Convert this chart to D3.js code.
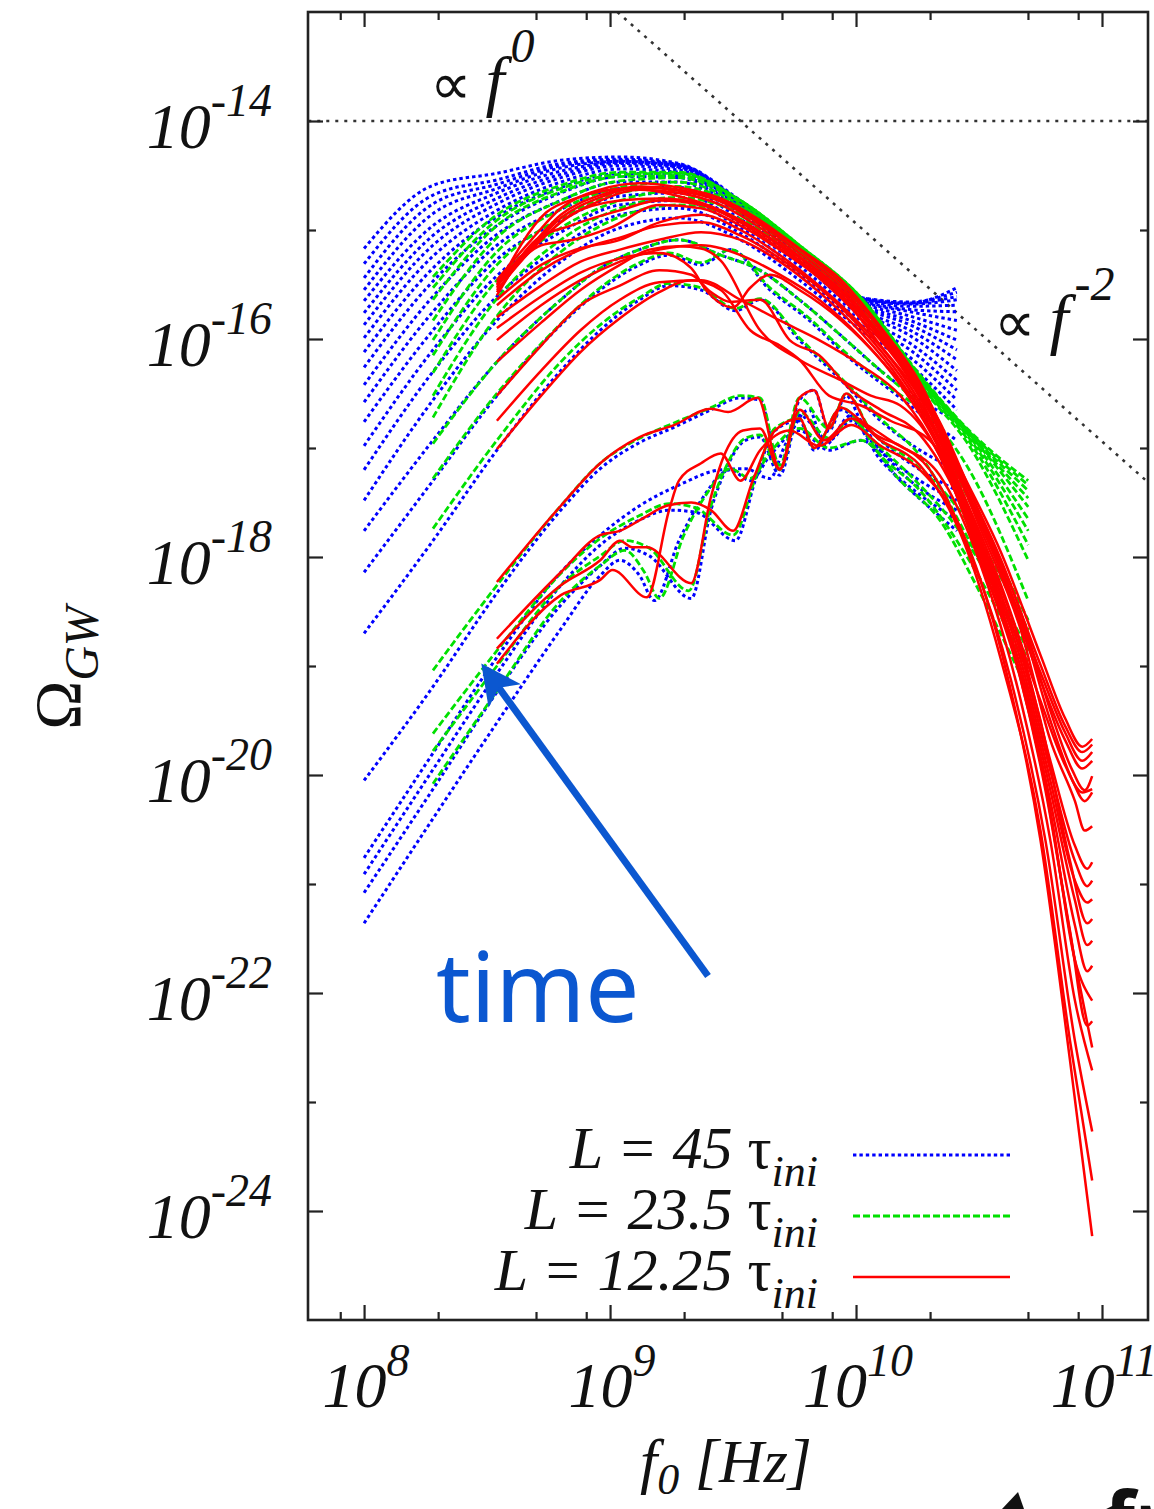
<!DOCTYPE html>
<html>
<head>
<meta charset="utf-8">
<script src="https://cdn.jsdelivr.net/npm/d3@7/dist/d3.min.js"></script>
<style>
  body { margin: 0; background: #fff; }
  svg text { font-family: "Liberation Serif", "Times New Roman", serif; fill: #111; }
</style>
</head>
<body>
<div id="chart"></div>
<script>
// every point is [log10 f0 (Hz), log10 Omega_GW]

// L = 45 tau_ini : late-time fan, all on one frequency grid
var blueFanF = [8.00, 8.28, 8.54, 8.80, 9.04, 9.28, 9.53, 9.77, 10.02, 10.22, 10.41];
var blueFanOmega = [
  [-17.48, -16.56, -15.83, -15.29, -14.98, -14.89, -15.09, -15.46, -15.92, -16.24, -16.65],
  [-17.20, -16.30, -15.61, -15.15, -14.86, -14.80, -15.03, -15.41, -15.87, -16.17, -16.56],
  [-16.98, -16.10, -15.42, -15.02, -14.77, -14.73, -14.98, -15.37, -15.83, -16.10, -16.47],
  [-16.76, -15.92, -15.27, -14.91, -14.69, -14.66, -14.94, -15.33, -15.79, -16.04, -16.38],
  [-16.58, -15.75, -15.14, -14.81, -14.62, -14.61, -14.90, -15.29, -15.75, -15.97, -16.29],
  [-16.42, -15.61, -15.04, -14.73, -14.56, -14.56, -14.86, -15.27, -15.73, -15.92, -16.19],
  [-16.26, -15.47, -14.96, -14.66, -14.51, -14.52, -14.84, -15.24, -15.70, -15.87, -16.10],
  [-16.12, -15.35, -14.88, -14.61, -14.48, -14.50, -14.82, -15.22, -15.68, -15.83, -16.01],
  [-15.99, -15.24, -14.82, -14.56, -14.44, -14.47, -14.80, -15.20, -15.66, -15.79, -15.92],
  [-15.87, -15.14, -14.76, -14.52, -14.41, -14.45, -14.78, -15.19, -15.65, -15.75, -15.83],
  [-15.76, -15.05, -14.71, -14.49, -14.39, -14.43, -14.77, -15.18, -15.64, -15.73, -15.75],
  [-15.65, -14.96, -14.66, -14.46, -14.38, -14.42, -14.76, -15.18, -15.63, -15.70, -15.69],
  [-15.55, -14.85, -14.62, -14.43, -14.37, -14.41, -14.75, -15.17, -15.63, -15.68, -15.64],
  [-15.44, -14.76, -14.58, -14.41, -14.36, -14.40, -14.75, -15.17, -15.63, -15.67, -15.61],
  [-15.31, -14.68, -14.54, -14.39, -14.35, -14.40, -14.74, -15.16, -15.62, -15.66, -15.57],
  [-15.17, -14.59, -14.48, -14.36, -14.33, -14.39, -14.73, -15.16, -15.62, -15.67, -15.53]
];
// L = 45 tau_ini : earlier snapshots
var blueCurves = [
  [[8.00,-17.76],[8.28,-16.93],[8.54,-16.21],[8.80,-15.64],[8.96,-15.35],[9.12,-15.18],[9.28,-15.09],[9.45,-15.23],[9.61,-15.37],[9.77,-15.64],[9.94,-15.97],[10.10,-16.29],[10.26,-16.56],[10.41,-16.75]],
  [[8.00,-18.14],[8.28,-17.30],[8.54,-16.52],[8.80,-15.87],[8.96,-15.55],[9.12,-15.32],[9.24,-15.23],[9.37,-15.32],[9.49,-15.18],[9.65,-15.55],[9.81,-15.83],[9.98,-16.19],[10.14,-16.47],[10.30,-16.75],[10.41,-16.93]],
  [[8.00,-18.70],[8.28,-17.85],[8.54,-17.02],[8.80,-16.29],[8.96,-15.92],[9.12,-15.64],[9.24,-15.51],[9.37,-15.55],[9.51,-15.74],[9.61,-15.64],[9.77,-16.01],[9.94,-16.38],[10.10,-16.75],[10.26,-17.02],[10.41,-17.20]],
  [[8.00,-20.05],[8.28,-19.19],[8.54,-18.33],[8.80,-17.57],[8.96,-17.19],[9.12,-16.95],[9.26,-16.81],[9.41,-16.65],[9.53,-16.54],[9.61,-16.56],[9.69,-17.20],[9.77,-16.56],[9.83,-16.47],[9.89,-16.84],[9.96,-16.52],[10.02,-16.75],[10.10,-16.93],[10.26,-17.20],[10.41,-17.39]],
  [[8.00,-20.76],[8.28,-19.80],[8.54,-18.92],[8.80,-18.14],[8.96,-17.80],[9.12,-17.53],[9.28,-17.34],[9.45,-17.20],[9.55,-17.19],[9.65,-17.28],[9.71,-16.98],[9.81,-16.65],[9.87,-16.98],[9.98,-16.70],[10.10,-17.02],[10.26,-17.30],[10.41,-17.48]],
  [[8.00,-20.91],[8.28,-19.95],[8.54,-19.07],[8.80,-18.26],[8.96,-17.89],[9.12,-17.66],[9.24,-17.57],[9.35,-17.59],[9.51,-17.85],[9.59,-17.30],[9.67,-16.84],[9.77,-16.75],[9.83,-17.02],[9.94,-16.65],[10.06,-16.93],[10.22,-17.30],[10.41,-17.57]],
  [[8.00,-21.08],[8.28,-20.13],[8.54,-19.24],[8.80,-18.44],[8.96,-18.08],[9.06,-17.92],[9.16,-17.99],[9.33,-18.38],[9.41,-17.57],[9.47,-17.20],[9.55,-16.93],[9.61,-16.90],[9.69,-17.25],[9.77,-16.70],[9.89,-16.93],[9.98,-16.75],[10.10,-17.11],[10.26,-17.43],[10.41,-17.66]],
  [[8.00,-21.36],[8.28,-20.40],[8.54,-19.52],[8.80,-18.66],[8.96,-18.17],[9.04,-18.03],[9.12,-18.17],[9.18,-18.40],[9.28,-17.85],[9.37,-17.48],[9.49,-17.20],[9.57,-17.30],[9.65,-17.07],[9.77,-16.84],[9.89,-17.02],[10.02,-16.93],[10.18,-17.30],[10.41,-17.76]]
];

// L = 23.5 tau_ini
var greenFanF = [8.28, 8.54, 8.80, 9.04, 9.28, 9.53, 9.77, 10.02, 10.26, 10.46, 10.70];
var greenFanOmega = [
  [-16.72, -15.79, -15.20, -14.88, -14.77, -14.90, -15.24, -15.71, -16.43, -16.98, -18.03],
  [-16.52, -15.63, -15.09, -14.80, -14.70, -14.85, -15.21, -15.69, -16.42, -16.94, -17.89],
  [-16.31, -15.46, -14.98, -14.73, -14.64, -14.82, -15.19, -15.67, -16.40, -16.91, -17.76],
  [-16.15, -15.32, -14.89, -14.66, -14.60, -14.79, -15.18, -15.65, -16.38, -16.89, -17.65],
  [-16.01, -15.20, -14.81, -14.61, -14.56, -14.77, -15.17, -15.64, -16.37, -16.87, -17.54],
  [-15.83, -15.07, -14.73, -14.55, -14.52, -14.75, -15.16, -15.63, -16.36, -16.87, -17.46],
  [-15.64, -14.96, -14.65, -14.51, -14.50, -14.73, -15.15, -15.63, -16.35, -16.86, -17.39],
  [-15.53, -14.91, -14.62, -14.49, -14.48, -14.73, -15.14, -15.62, -16.34, -16.85, -17.34],
  [-15.43, -14.86, -14.59, -14.47, -14.47, -14.73, -15.14, -15.62, -16.33, -16.84, -17.30]
];
var greenCurves = [
  [[8.28,-16.96],[8.54,-16.21],[8.80,-15.64],[8.96,-15.35],[9.12,-15.18],[9.28,-15.09],[9.45,-15.23],[9.61,-15.37],[9.77,-15.64],[9.94,-15.97],[10.10,-16.29],[10.26,-16.61],[10.46,-17.20],[10.70,-18.40]],
  [[8.28,-17.28],[8.54,-16.50],[8.80,-15.86],[8.96,-15.53],[9.12,-15.30],[9.24,-15.21],[9.37,-15.30],[9.49,-15.18],[9.65,-15.53],[9.81,-15.81],[9.98,-16.17],[10.14,-16.45],[10.30,-16.75],[10.46,-17.48],[10.70,-18.58]],
  [[8.28,-17.74],[8.54,-16.93],[8.80,-16.21],[8.96,-15.87],[9.12,-15.62],[9.24,-15.49],[9.37,-15.53],[9.51,-15.72],[9.61,-15.63],[9.77,-15.99],[9.94,-16.36],[10.10,-16.73],[10.26,-17.07],[10.46,-17.85],[10.70,-18.95]],
  [[8.28,-19.04],[8.54,-18.26],[8.80,-17.53],[8.96,-17.14],[9.12,-16.91],[9.26,-16.77],[9.41,-16.63],[9.53,-16.52],[9.61,-16.54],[9.69,-17.16],[9.77,-16.54],[9.89,-16.82],[9.96,-16.50],[10.06,-16.84],[10.22,-17.11],[10.42,-17.57],[10.70,-18.67]],
  [[8.28,-19.62],[8.54,-18.86],[8.80,-18.15],[8.96,-17.83],[9.12,-17.62],[9.24,-17.51],[9.35,-17.55],[9.50,-17.80],[9.59,-17.28],[9.67,-16.82],[9.77,-16.73],[9.83,-17.00],[9.94,-16.63],[10.06,-16.91],[10.22,-17.25],[10.42,-17.76],[10.70,-18.86]],
  [[8.28,-19.78],[8.54,-19.00],[8.80,-18.26],[8.96,-17.99],[9.06,-17.85],[9.16,-17.92],[9.32,-18.31],[9.41,-17.53],[9.47,-17.18],[9.55,-16.91],[9.61,-16.88],[9.69,-17.20],[9.77,-16.67],[9.89,-16.91],[9.98,-16.73],[10.10,-17.07],[10.26,-17.39],[10.46,-18.03],[10.70,-19.04]],
  [[8.28,-20.08],[8.54,-19.23],[8.80,-18.40],[8.96,-18.08],[9.06,-17.94],[9.14,-18.14],[9.20,-18.38],[9.30,-17.80],[9.39,-17.43],[9.49,-17.19],[9.57,-17.28],[9.65,-17.04],[9.77,-16.82],[9.89,-17.00],[10.02,-16.93],[10.18,-17.30],[10.34,-17.66],[10.50,-18.31],[10.70,-19.23]]
];

// L = 12.25 tau_ini
var redCurves = [
  [[8.54,-15.46],[8.68,-15.09],[8.80,-14.80],[8.96,-14.63],[9.12,-14.57],[9.28,-14.61],[9.45,-14.71],[9.61,-14.91],[9.77,-15.17],[9.94,-15.46],[10.10,-15.89],[10.26,-16.40],[10.42,-17.17],[10.59,-17.96],[10.75,-18.90],[10.85,-19.48],[10.92,-19.74],[10.96,-19.67]],
  [[8.54,-15.48],[8.68,-15.14],[8.80,-14.86],[8.96,-14.68],[9.12,-14.60],[9.28,-14.63],[9.45,-14.73],[9.61,-14.93],[9.77,-15.18],[9.94,-15.49],[10.10,-15.92],[10.26,-16.42],[10.42,-17.20],[10.59,-18.03],[10.75,-18.99],[10.85,-19.55],[10.92,-19.79],[10.96,-19.72]],
  [[8.54,-15.50],[8.68,-15.16],[8.80,-14.89],[8.96,-14.70],[9.12,-14.61],[9.28,-14.64],[9.45,-14.74],[9.61,-14.95],[9.77,-15.21],[9.94,-15.52],[10.10,-15.96],[10.26,-16.46],[10.42,-17.24],[10.59,-18.09],[10.75,-19.06],[10.85,-19.61],[10.92,-19.87],[10.96,-19.79]],
  [[8.54,-15.51],[8.68,-15.18],[8.80,-14.93],[8.96,-14.73],[9.12,-14.63],[9.28,-14.66],[9.45,-14.77],[9.61,-14.98],[9.77,-15.24],[9.94,-15.55],[10.10,-15.99],[10.26,-16.49],[10.42,-17.28],[10.59,-18.14],[10.75,-19.13],[10.85,-19.68],[10.92,-19.94],[10.96,-19.87]],
  [[8.54,-15.53],[8.74,-14.84],[8.86,-14.71],[9.08,-14.62],[9.28,-14.69],[9.45,-14.82],[9.61,-15.02],[9.77,-15.28],[9.94,-15.60],[10.10,-16.06],[10.26,-16.54],[10.42,-17.34],[10.59,-18.26],[10.75,-19.32],[10.85,-19.91],[10.92,-20.16],[10.96,-20.13]],
  [[8.54,-15.55],[8.72,-15.09],[8.84,-14.86],[9.04,-14.73],[9.20,-14.71],[9.37,-14.76],[9.53,-14.91],[9.69,-15.13],[9.85,-15.39],[10.02,-15.75],[10.18,-16.18],[10.34,-16.76],[10.50,-17.59],[10.67,-18.51],[10.79,-19.41],[10.88,-19.96],[10.93,-20.14],[10.96,-20.01]],
  [[8.54,-15.60],[8.70,-15.09],[8.84,-14.96],[9.04,-14.82],[9.20,-14.73],[9.37,-14.77],[9.53,-14.93],[9.69,-15.17],[9.85,-15.41],[10.02,-15.78],[10.18,-16.21],[10.34,-16.82],[10.50,-17.66],[10.67,-18.58],[10.79,-19.50],[10.88,-20.05],[10.93,-20.24],[10.96,-20.16]],
  [[8.54,-15.57],[8.72,-15.14],[8.85,-15.09],[9.00,-14.98],[9.20,-14.77],[9.37,-14.80],[9.53,-14.96],[9.69,-15.18],[9.85,-15.44],[10.02,-15.81],[10.18,-16.24],[10.34,-16.84],[10.50,-17.71],[10.67,-18.67],[10.79,-19.68],[10.89,-20.24],[10.93,-20.51],[10.96,-20.47]],
  [[8.54,-15.64],[8.72,-15.32],[8.86,-15.18],[9.04,-15.09],[9.20,-14.93],[9.37,-14.86],[9.53,-15.00],[9.69,-15.23],[9.85,-15.51],[10.02,-15.87],[10.18,-16.30],[10.34,-16.91],[10.50,-17.80],[10.67,-18.81],[10.79,-19.87],[10.89,-20.65],[10.94,-20.86],[10.96,-20.80]],
  [[8.54,-15.69],[8.72,-15.37],[8.88,-15.18],[9.04,-15.07],[9.20,-14.96],[9.37,-14.93],[9.53,-15.05],[9.69,-15.26],[9.85,-15.53],[10.02,-15.90],[10.18,-16.34],[10.34,-16.94],[10.50,-17.85],[10.67,-18.88],[10.79,-19.96],[10.89,-20.79],[10.94,-21.02],[10.96,-20.97]],
  [[8.54,-15.80],[8.72,-15.51],[8.88,-15.29],[9.04,-15.18],[9.20,-15.09],[9.37,-15.02],[9.53,-15.09],[9.69,-15.29],[9.85,-15.57],[10.02,-15.94],[10.18,-16.38],[10.34,-16.98],[10.50,-17.89],[10.67,-18.95],[10.79,-20.05],[10.89,-20.97],[10.94,-21.17],[10.96,-21.14]],
  [[8.54,-15.90],[8.72,-15.61],[8.88,-15.39],[9.04,-15.26],[9.20,-15.21],[9.33,-15.35],[9.39,-15.55],[9.50,-15.71],[9.57,-15.53],[9.65,-15.41],[9.77,-15.55],[9.94,-15.83],[10.10,-16.19],[10.26,-16.65],[10.42,-17.39],[10.59,-18.35],[10.75,-19.50],[10.87,-20.79],[10.94,-21.36],[10.96,-21.32]],
  [[8.54,-16.01],[8.72,-15.69],[8.88,-15.46],[9.04,-15.29],[9.20,-15.18],[9.37,-15.14],[9.53,-15.23],[9.69,-15.41],[9.85,-15.64],[10.02,-15.99],[10.18,-16.42],[10.34,-17.02],[10.50,-17.94],[10.67,-19.02],[10.79,-20.14],[10.89,-21.15],[10.94,-21.56],[10.96,-21.52]],
  [[8.54,-16.21],[8.72,-15.85],[8.88,-15.55],[9.04,-15.32],[9.16,-15.18],[9.28,-15.15],[9.37,-15.17],[9.45,-15.28],[9.61,-15.92],[9.77,-16.19],[9.94,-16.38],[10.06,-16.52],[10.18,-16.61],[10.34,-17.07],[10.50,-17.99],[10.67,-19.09],[10.79,-20.24],[10.89,-21.38],[10.94,-21.80],[10.96,-21.75]],
  [[8.54,-16.52],[8.72,-16.06],[8.88,-15.69],[9.04,-15.51],[9.20,-15.37],[9.33,-15.41],[9.41,-15.57],[9.49,-15.66],[9.61,-15.64],[9.73,-16.01],[9.85,-16.15],[9.98,-16.47],[10.10,-16.65],[10.26,-16.88],[10.42,-17.48],[10.59,-18.49],[10.75,-19.86],[10.87,-21.43],[10.94,-22.30],[10.96,-22.26]],
  [[8.54,-16.75],[8.72,-16.29],[8.88,-15.92],[9.04,-15.64],[9.20,-15.48],[9.37,-15.46],[9.53,-15.64],[9.69,-15.83],[9.85,-16.01],[10.02,-16.24],[10.18,-16.52],[10.34,-17.07],[10.50,-17.99],[10.67,-19.13],[10.79,-20.33],[10.89,-21.70],[10.96,-22.07]],
  [[8.54,-17.01],[8.72,-16.52],[8.88,-16.12],[9.04,-15.81],[9.20,-15.57],[9.33,-15.46],[9.45,-15.55],[9.57,-15.92],[9.69,-16.06],[9.77,-16.19],[9.89,-16.52],[10.02,-16.61],[10.14,-16.75],[10.30,-16.93],[10.46,-17.57],[10.63,-18.77],[10.77,-20.14],[10.89,-21.70],[10.96,-22.50]],
  [[8.54,-18.23],[8.80,-17.53],[8.96,-17.14],[9.12,-16.90],[9.26,-16.79],[9.41,-16.64],[9.48,-16.67],[9.60,-16.54],[9.69,-17.19],[9.77,-16.54],[9.83,-16.47],[9.89,-16.82],[9.96,-16.50],[10.06,-16.84],[10.18,-16.98],[10.34,-17.25],[10.50,-18.03],[10.67,-19.32],[10.79,-20.60],[10.89,-22.07],[10.96,-22.71]],
  [[8.54,-18.75],[8.80,-18.14],[8.96,-17.80],[9.04,-17.76],[9.13,-17.65],[9.23,-17.53],[9.33,-17.50],[9.41,-17.57],[9.50,-17.76],[9.58,-17.30],[9.67,-16.84],[9.77,-16.73],[9.83,-17.00],[9.94,-16.63],[10.02,-16.75],[10.14,-16.93],[10.30,-17.20],[10.46,-17.94],[10.63,-19.13],[10.77,-20.60],[10.89,-22.44],[10.96,-23.27]],
  [[8.54,-18.84],[8.80,-18.26],[8.96,-18.03],[9.04,-17.85],[9.09,-17.91],[9.15,-17.91],[9.33,-18.24],[9.41,-17.45],[9.46,-17.09],[9.54,-16.84],[9.61,-16.82],[9.69,-17.20],[9.77,-16.65],[9.87,-16.93],[9.98,-16.73],[10.10,-16.93],[10.26,-17.16],[10.42,-17.76],[10.59,-18.95],[10.75,-20.51],[10.87,-22.44],[10.96,-23.72]],
  [[8.54,-18.98],[8.80,-18.35],[8.96,-18.21],[9.01,-18.12],[9.15,-18.37],[9.24,-17.57],[9.28,-17.30],[9.37,-17.14],[9.45,-17.05],[9.53,-17.30],[9.61,-17.02],[9.73,-16.84],[9.85,-16.98],[9.98,-16.79],[10.10,-16.98],[10.26,-17.20],[10.42,-17.71],[10.59,-18.86],[10.75,-20.60],[10.87,-22.62],[10.96,-24.23]]
];

// guide lines  (proportional to f^0 and f^-2)
var refFlat  = [[7.7, -14.0], [11.3, -14.0]];
var refSteep = [[9.03, -13.0], [11.3, -17.54]];

var legendL = ["45", "23.5", "12.25"];
var xMajor = [8, 9, 10, 11];
var xMinor = [8e7, 2e8, 5e8, 8e8, 2e9, 5e9, 8e9, 2e10, 5e10, 8e10];
var yMajor = [-14, -16, -18, -20, -22, -24];
var yMinor = [-15, -17, -19, -21, -23];

var W = 1154, H = 1509;
var P = {l: 308, t: 12, r: 1148, b: 1320};

var svg = d3.select("#chart").append("svg")
    .attr("width", W).attr("height", H);

var x = d3.scaleLog().domain([Math.pow(10, 7.772), Math.pow(10, 11.187)]).range([P.l, P.r]);
var y = d3.scaleLog().domain([1e-25, 1e-13]).range([P.b, P.t]);

var line = d3.line()
    .x(function(d){ return x(Math.pow(10, d[0])); })
    .y(function(d){ return y(Math.pow(10, d[1])); })
    .curve(d3.curveMonotoneX);

function fanRows(fGrid, rows){
    return rows.map(function(r){ return r.map(function(o, i){ return [fGrid[i], o]; }); });
}

svg.append("clipPath").attr("id", "plot")
  .append("rect").attr("x", P.l).attr("y", P.t)
    .attr("width", P.r - P.l).attr("height", P.b - P.t);

var plot = svg.append("g").attr("clip-path", "url(#plot)");

// guide lines
[refFlat, refSteep].forEach(function(r){
    plot.append("path").attr("d", d3.line()
            .x(function(d){ return x(Math.pow(10, d[0])); })
            .y(function(d){ return y(Math.pow(10, d[1])); })(r))
        .attr("fill", "none").attr("stroke", "#333")
        .attr("stroke-width", 2.6).attr("stroke-dasharray", "3,6");
});

var families = [
    {color: "#0000ff", dash: "3.4,3", width: 3, curves: fanRows(blueFanF, blueFanOmega).concat(blueCurves)},
    {color: "#00e000", dash: "7,3", width: 2.8, curves: fanRows(greenFanF, greenFanOmega).concat(greenCurves)},
    {color: "#ff0000", dash: null, width: 2.5, curves: redCurves}
];

families.forEach(function(fam){
    plot.append("g").selectAll("path").data(fam.curves).enter().append("path")
        .attr("d", line)
        .attr("fill", "none")
        .attr("stroke", fam.color)
        .attr("stroke-width", fam.width)
        .attr("stroke-dasharray", fam.dash);
});

// axes: ticks inward on all four sides
function styleAxis(g){
    g.select(".domain").remove();
    g.selectAll(".tick line").attr("stroke", "#222").attr("stroke-width", 2.2);
}
var yMaj = yMajor.map(function(e){ return Math.pow(10, e); });
var yMin = yMinor.map(function(e){ return Math.pow(10, e); });
var xMaj = xMajor.map(function(e){ return Math.pow(10, e); });

svg.append("g").attr("transform", "translate(" + P.l + ",0)")
    .call(d3.axisLeft(y).tickValues(yMaj).tickSize(-15).tickFormat("")).call(styleAxis);
svg.append("g").attr("transform", "translate(" + P.l + ",0)")
    .call(d3.axisLeft(y).tickValues(yMin).tickSize(-8).tickFormat("")).call(styleAxis);
svg.append("g").attr("transform", "translate(" + P.r + ",0)")
    .call(d3.axisRight(y).tickValues(yMaj).tickSize(-15).tickFormat("")).call(styleAxis);
svg.append("g").attr("transform", "translate(" + P.r + ",0)")
    .call(d3.axisRight(y).tickValues(yMin).tickSize(-8).tickFormat("")).call(styleAxis);
svg.append("g").attr("transform", "translate(0," + P.b + ")")
    .call(d3.axisBottom(x).tickValues(xMaj).tickSize(-15).tickFormat("")).call(styleAxis);
svg.append("g").attr("transform", "translate(0," + P.b + ")")
    .call(d3.axisBottom(x).tickValues(xMinor).tickSize(-8).tickFormat("")).call(styleAxis);
svg.append("g").attr("transform", "translate(0," + P.t + ")")
    .call(d3.axisTop(x).tickValues(xMaj).tickSize(-15).tickFormat("")).call(styleAxis);
svg.append("g").attr("transform", "translate(0," + P.t + ")")
    .call(d3.axisTop(x).tickValues(xMinor).tickSize(-8).tickFormat("")).call(styleAxis);

svg.append("rect").attr("x", P.l).attr("y", P.t)
    .attr("width", P.r - P.l).attr("height", P.b - P.t)
    .attr("fill", "none").attr("stroke", "#222").attr("stroke-width", 2.6);

// tick labels 10^n
yMajor.forEach(function(e){
    var t = svg.append("text").attr("x", 272).attr("y", y(Math.pow(10, e)) + 27)
        .attr("text-anchor", "end").attr("font-style", "italic");
    t.append("tspan").attr("font-size", 64).text("10");
    t.append("tspan").attr("font-size", 46).attr("dy", -32).text(e < 0 ? "-" + (-e) : e);
});
xMajor.forEach(function(e){
    var t = svg.append("text").attr("x", x(Math.pow(10, e)) + 2).attr("y", 1407)
        .attr("text-anchor", "middle").attr("font-style", "italic");
    t.append("tspan").attr("font-size", 64).text("10");
    t.append("tspan").attr("font-size", 46).attr("dy", -31).text(e);
});

// axis titles
var yt = svg.append("text").attr("transform", "translate(80,668) rotate(-90)")
    .attr("text-anchor", "middle");
yt.append("tspan").attr("font-size", 66).text("Ω");
yt.append("tspan").attr("font-size", 48).attr("font-style", "italic").attr("dy", 18).text("GW");

var xt = svg.append("text").attr("x", 726).attr("y", 1482)
    .attr("text-anchor", "middle").attr("font-style", "italic");
xt.append("tspan").attr("font-size", 62).text("f");
xt.append("tspan").attr("font-size", 44).attr("dy", 12).text("0");
xt.append("tspan").attr("font-size", 62).attr("dy", -12).text(" [Hz]");

// slope annotations
function slopeLabel(px, py, power){
    var t = svg.append("text").attr("x", px).attr("y", py);
    t.append("tspan").attr("font-size", 58).text("∝ ");
    t.append("tspan").attr("font-size", 68).attr("font-style", "italic").text("f");
    t.append("tspan").attr("font-size", 48).attr("font-style", "italic").attr("dx", 6).attr("dy", -42).text(power);
}
slopeLabel(430, 104, "0");
slopeLabel(994, 342, "-2");

// legend
families.forEach(function(fam, i){
    var ly = 1155 + i * 61;
    var t = svg.append("text").attr("x", 818).attr("y", ly + 13)
        .attr("text-anchor", "end");
    t.append("tspan").attr("font-size", 60).attr("font-style", "italic").text("L = " + legendL[i] + " ");
    t.append("tspan").attr("font-size", 60).text("τ");
    t.append("tspan").attr("font-size", 44).attr("font-style", "italic").attr("dy", 18).text("ini");
    svg.append("line").attr("x1", 853).attr("x2", 1010).attr("y1", ly).attr("y2", ly)
        .attr("stroke", fam.color).attr("stroke-width", fam.width)
        .attr("stroke-dasharray", fam.dash);
});

// "time" annotation with arrow
svg.append("defs").append("marker").attr("id", "head")
    .attr("viewBox", "0 0 10 10").attr("refX", 8).attr("refY", 5)
    .attr("markerUnits", "userSpaceOnUse")
    .attr("markerWidth", 46).attr("markerHeight", 40).attr("orient", "auto")
  .append("path").attr("d", "M0,0 L10,5 L0,10 L2.5,5 Z").attr("fill", "#0b57d0");
svg.append("line").attr("x1", 708).attr("y1", 976).attr("x2", 486).attr("y2", 670)
    .attr("stroke", "#0b57d0").attr("stroke-width", 7).attr("marker-end", "url(#head)");
svg.append("text").attr("x", 436).attr("y", 1022)
    .style("font-family", "'Noto Sans', sans-serif").style("fill", "#0b57d0")
    .attr("font-size", 96).text("time");

// cropped piece of a neighbouring label at the lower edge
svg.append("path").attr("d", "M1002,1509 L1018,1492 L1024,1509 Z").attr("fill", "#111");
svg.append("text").attr("x", 1104).attr("y", 1550)
    .style("font-family", "'Noto Sans', sans-serif").attr("font-weight", "bold")
    .attr("font-size", 80).text("fr");
</script>
</body>
</html>
